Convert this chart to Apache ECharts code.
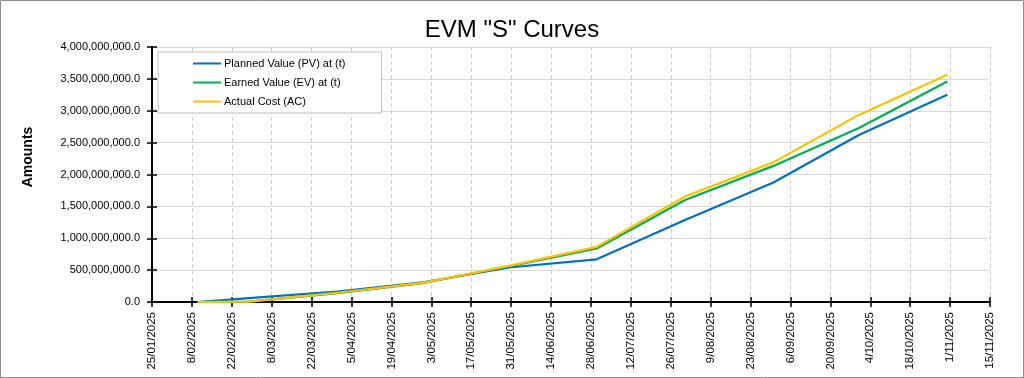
<!DOCTYPE html>
<html>
<head>
<meta charset="utf-8">
<script src="https://cdn.jsdelivr.net/npm/echarts@6/dist/echarts.min.js"></script>
<style>
html,body{margin:0;padding:0;background:#fff;}
#chart{width:1024px;height:378px;}
</style>
</head>
<body>
<div id="chart"></div>
<script>
// ---- Data ----
const dates = ['2025-02-10','2025-02-28','2025-03-31','2025-04-30','2025-05-31','2025-06-30','2025-07-31','2025-08-31','2025-09-30','2025-10-31'];
const plannedValue = [0, 60000000, 165000000, 310000000, 545000000, 670000000, 1285000000, 1875000000, 2620000000, 3250000000];
const earnedValue  = [0, 5000000, 140000000, 295000000, 565000000, 840000000, 1600000000, 2135000000, 2730000000, 3460000000];
const actualCost   = [0, 5000000, 145000000, 300000000, 575000000, 865000000, 1655000000, 2190000000, 2935000000, 3565000000];
const seriesNames = ['Planned Value (PV) at (t)', 'Earned Value (EV) at (t)', 'Actual Cost (AC)'];
const axisStart = '2025-01-25';
const axisEnd = '2025-11-15';
const tickDays = 14;
const yMax = 4000000000;
const yStep = 500000000;

const DAY = 86400000;
function toMs(s){ const p = s.split('-').map(Number); return Date.UTC(p[0], p[1]-1, p[2]); }
const t0 = toMs(axisStart);
function dayOff(s){ return Math.round((toMs(s) - t0) / DAY); }
const xMax = dayOff(axisEnd);
function fmtDate(v){
  const d = new Date(t0 + v*DAY);
  const m = d.getUTCMonth()+1;
  return d.getUTCDate() + '/' + (m<10?'0'+m:m) + '/' + d.getUTCFullYear();
}
function fmtNum(v){
  const s = Math.round(v).toString().replace(/\B(?=(\d{3})+(?!\d))/g, ',');
  return s + '.0';
}
function pairs(arr){ return dates.map((d,i)=>[dayOff(d), arr[i]]); }

const FONT = 'Liberation Sans';
const chart = echarts.init(document.getElementById('chart'), null, {renderer:'canvas'});
const xBase = {type:'value', min:0, max:xMax, interval:tickDays, position:'bottom'};
const yBase = {type:'value', min:0, max:yMax, interval:yStep, position:'left'};
chart.setOption({
  animation:false,
  backgroundColor:'#fff',
  textStyle:{fontFamily:FONT},
  title:{text:'EVM "S" Curves', left:'center', top:13,
    textStyle:{fontFamily:FONT, fontSize:24, fontWeight:'normal', color:'#000'}},
  grid:{left:152, right:34, top:47, bottom:76},
  legend:{
    orient:'vertical', left:158, top:52,
    padding:[6,36,6,35], itemGap:8, itemWidth:28, itemHeight:12,
    backgroundColor:'#fff', borderColor:'#bfbfbf', borderWidth:1, borderRadius:0,
    icon:'path://M0,5 L28,5 L28,7 L0,7 Z',
    textStyle:{fontFamily:FONT, fontSize:11, color:'#000', padding:[0,0,0,-2]},
    data:seriesNames
  },
  xAxis:[
    Object.assign({}, xBase, {
      axisLine:{show:true, onZero:false, lineStyle:{color:'#000', width:2}},
      axisTick:{show:true, length:5, lineStyle:{color:'#000', width:1.5}},
      axisLabel:{rotate:90, margin:10, fontFamily:FONT, fontSize:11.5, color:'#000', formatter:fmtDate},
      splitLine:{show:true, lineStyle:{color:'#d0d0d0', type:[4,3], width:1}}
    }),
    Object.assign({}, xBase, {
      axisLine:{show:false},
      axisTick:{show:true, inside:true, length:5, lineStyle:{color:'#000', width:1.5}},
      axisLabel:{show:false}, splitLine:{show:false}
    })
  ],
  yAxis:[
    Object.assign({}, yBase, {
      axisLine:{show:true, onZero:false, lineStyle:{color:'#000', width:2}},
      axisTick:{show:true, length:5, lineStyle:{color:'#000', width:1.5}},
      axisLabel:{margin:12, fontFamily:FONT, fontSize:11, color:'#000', formatter:fmtNum},
      splitLine:{show:true, lineStyle:{color:'#d9d9d9', width:1}}
    }),
    Object.assign({}, yBase, {
      axisLine:{show:false},
      axisTick:{show:true, inside:true, length:5, lineStyle:{color:'#000', width:1.5}},
      axisLabel:{show:false}, splitLine:{show:false}
    })
  ],
  series:[
    {name:seriesNames[0], type:'line', data:pairs(plannedValue), showSymbol:false, symbol:'none', color:'#0070C0', lineStyle:{width:2.2}, z:3},
    {name:seriesNames[1], type:'line', data:pairs(earnedValue), showSymbol:false, symbol:'none', color:'#00B050', lineStyle:{width:2.2}, z:4},
    {name:seriesNames[2], type:'line', data:pairs(actualCost), showSymbol:false, symbol:'none', color:'#FFC000', lineStyle:{width:2.2}, z:5}
  ],
  graphic:[
    {type:'text', x:28, y:157, rotation:Math.PI/2, silent:true,
      style:{text:'Amounts', fontFamily:FONT, fontSize:14, fontWeight:'bold', fill:'#000', align:'center', verticalAlign:'middle'}},
    {type:'rect', shape:{x:0.5, y:0.5, width:1023, height:377}, style:{fill:'none', stroke:'#8c8c8c', lineWidth:1}, silent:true, z:100}
  ]
});
</script>
</body>
</html>
